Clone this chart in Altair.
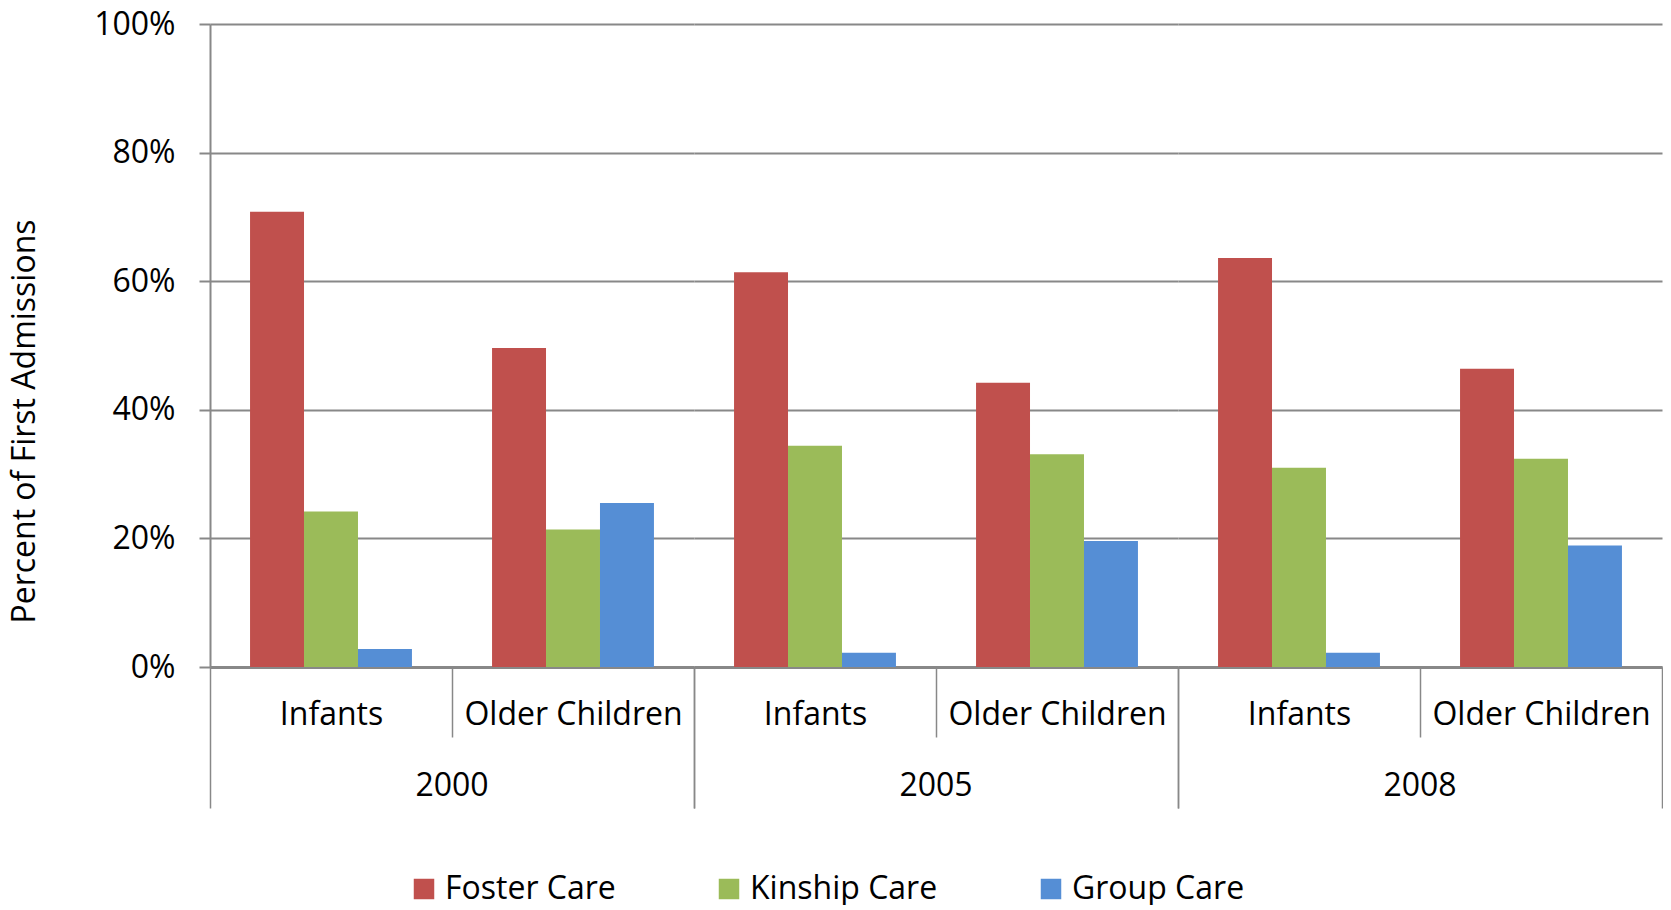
import altair as alt
import pandas as pd

years = ["2000", "2005", "2008"]
groups = ["Infants", "Older Children"]
series = ["Foster Care", "Kinship Care", "Group Care"]
# values in the order 2000 Infants, 2000 Older, 2005 Infants, 2005 Older, 2008 Infants, 2008 Older
foster = [0.708, 0.496, 0.614, 0.442, 0.636, 0.464]
kinship = [0.242, 0.214, 0.344, 0.331, 0.310, 0.324]
group_care = [0.028, 0.255, 0.022, 0.196, 0.022, 0.189]
colors = ["#C0504D", "#9BBB59", "#558ED5"]
y_ticks = [0, 0.2, 0.4, 0.6, 0.8, 1.0]

rows = []
slots = [(y, g) for y in years for g in groups]
for i, (yr, g) in enumerate(slots):
    for s, vals in zip(series, [foster, kinship, group_care]):
        rows.append({"Year": yr, "Group": g, "Series": s, "Value": vals[i]})
df = pd.DataFrame(rows)

FONT = "Open Sans"
GRAY = "#888888"

base = alt.Chart(df).mark_bar().encode(
    x=alt.X(
        "Group:N", sort=groups, title=None,
        scale=alt.Scale(paddingInner=0, paddingOuter=0),
        axis=alt.Axis(
            labelAngle=0, labelFont=FONT, labelFontSize=32, labelColor="black",
            labelBaseline="middle", labelLimit=0,
            tickBand="extent", tickColor=GRAY, tickWidth=1.5,
            tickSize={"condition": {"test": "datum.value === 'Infants'", "value": 70}, "value": 141},
            labelPadding={"condition": {"test": "datum.value === 'Infants'", "value": -23}, "value": -94},
            domainColor=GRAY, domainWidth=3,
        ),
    ),
    xOffset=alt.XOffset("Series:N", sort=series,
                        scale=alt.Scale(paddingInner=0, paddingOuter=0.742)),
    y=alt.Y(
        "Value:Q", scale=alt.Scale(domain=[0, 1]), title="Percent of First Admissions",
        axis=alt.Axis(
            values=y_ticks, format=".0%",
            labelFont=FONT, labelFontSize=32, labelColor="black", labelPadding=24,
            tickSize=11, tickColor=GRAY, tickWidth=2,
            domainColor=GRAY, domainWidth=2,
            gridColor=GRAY, gridWidth=2,
            titleFont=FONT, titleFontSize=32, titleFontWeight="normal", titleColor="black",
            titleX=-186, titleY=397, titleBaseline="middle",
        ),
    ),
    color=alt.Color(
        "Series:N", sort=series,
        scale=alt.Scale(domain=series, range=colors),
        legend=alt.Legend(
            title=None, orient="none", direction="horizontal",
            legendX=198, legendY=849,
            symbolType="square", symbolSize=420, symbolStrokeWidth=0,
            labelFont=FONT, labelFontSize=32, labelColor="black", labelOffset=5,
            labelLimit=0, columnPadding=97,
        ),
    ),
).properties(width=484, height=643)

chart = base.facet(
    column=alt.Column(
        "Year:N", sort=years, title=None,
        header=alt.Header(labelOrient="bottom", labelFont=FONT, labelFontSize=32,
                          labelColor="black", labelPadding=-23, labelBaseline="middle"),
    ),
    spacing=0,
).properties(
    bounds="flush", padding=0
).configure_view(stroke="transparent")

chart.save("out.html", embed_options={"renderer": "svg", "actions": False})
